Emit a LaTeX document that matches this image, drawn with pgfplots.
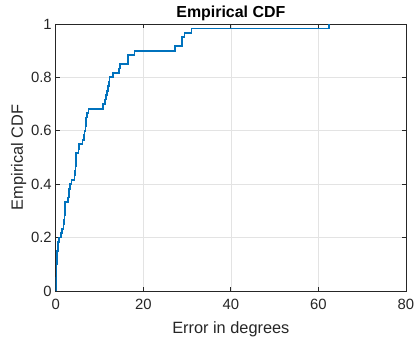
\documentclass[border=0pt]{standalone}
\usepackage{pgfplots}
\pgfplotsset{compat=1.18}
\usepackage{fontspec}
\setmainfont{Liberation Sans}
\definecolor{mblue}{rgb}{0,0.447,0.741}
\definecolor{axgray}{rgb}{0.15,0.15,0.15}
\begin{document}
\begin{tikzpicture}[x=1bp,y=1bp]
\begin{axis}[
  scale only axis,
  width=350.3bp, height=267bp,
  xmin=0, xmax=80, ymin=0, ymax=1,
  xtick={0,20,40,60,80},
  ytick={0,0.2,0.4,0.6,0.8,1},
  yticklabels={0,0.2,0.4,0.6,0.8,1},
  grid=major,
  major grid style={draw=gray!22, line width=0.6bp},
  axis line style={draw=axgray, line width=0.8bp},
  tick style={draw=axgray, line width=0.8bp},
  tick align=inside,
  major tick length=4bp,
  ticklabel style={font=\fontsize{14.9}{17}\selectfont, text=axgray},
  xticklabel style={yshift=-4.5bp},
  yticklabel style={xshift=-0.5bp},
  /pgf/number format/assume math mode=true,
  xlabel={Error in degrees},
  ylabel={Empirical CDF},
  label style={font=\fontsize{16.4}{19}\selectfont, text=axgray},
  xlabel style={at={(axis description cs:0.5,-0.159)}, anchor=base},
  ylabel style={at={(axis description cs:-0.094,0.5)}, anchor=base},
  title={\textbf{Empirical CDF}},
  every axis title shift=0pt,
  title style={font=\fontsize{16}{19}\selectfont, at={(axis description cs:0.5,1.025)}, anchor=base, yshift=0pt},
]
\addplot[const plot, color=mblue, line width=1.8bp] coordinates {
(0.05,0) (0.1,0.05) (0.2,0.1) (0.3,0.15) (0.45,0.167) (0.6,0.183) (0.8,0.2)
(1.3,0.217) (1.4,0.233) (1.8,0.25) (1.9,0.267) (2.0,0.283) (2.1,0.3) (2.15,0.317)
(2.2,0.333) (2.9,0.35) (3.0,0.367) (3.1,0.383) (3.2,0.4) (3.6,0.417) (4.3,0.433)
(4.4,0.45) (4.5,0.467) (4.55,0.483) (4.6,0.5) (4.7,0.517) (5.2,0.533) (5.3,0.55)
(6.1,0.567) (6.5,0.583) (6.6,0.6) (6.8,0.617) (6.9,0.633) (7.0,0.65) (7.2,0.667)
(7.5,0.683) (10.8,0.7) (11.3,0.717) (11.5,0.733) (11.8,0.75) (11.9,0.767)
(12.1,0.783) (12.3,0.8) (13.0,0.817) (14.5,0.833) (14.6,0.85) (16.5,0.867)
(16.6,0.883) (18,0.9) (27.2,0.917) (28.8,0.933) (28.9,0.95) (29.4,0.967)
(31,0.983) (62.5,1)
};
\end{axis}
\pgfresetboundingbox
\path ([xshift=-55.7bp,yshift=-50bp]current axis.south west) rectangle ([xshift=8bp,yshift=24bp]current axis.north east);
\end{tikzpicture}
\end{document}
